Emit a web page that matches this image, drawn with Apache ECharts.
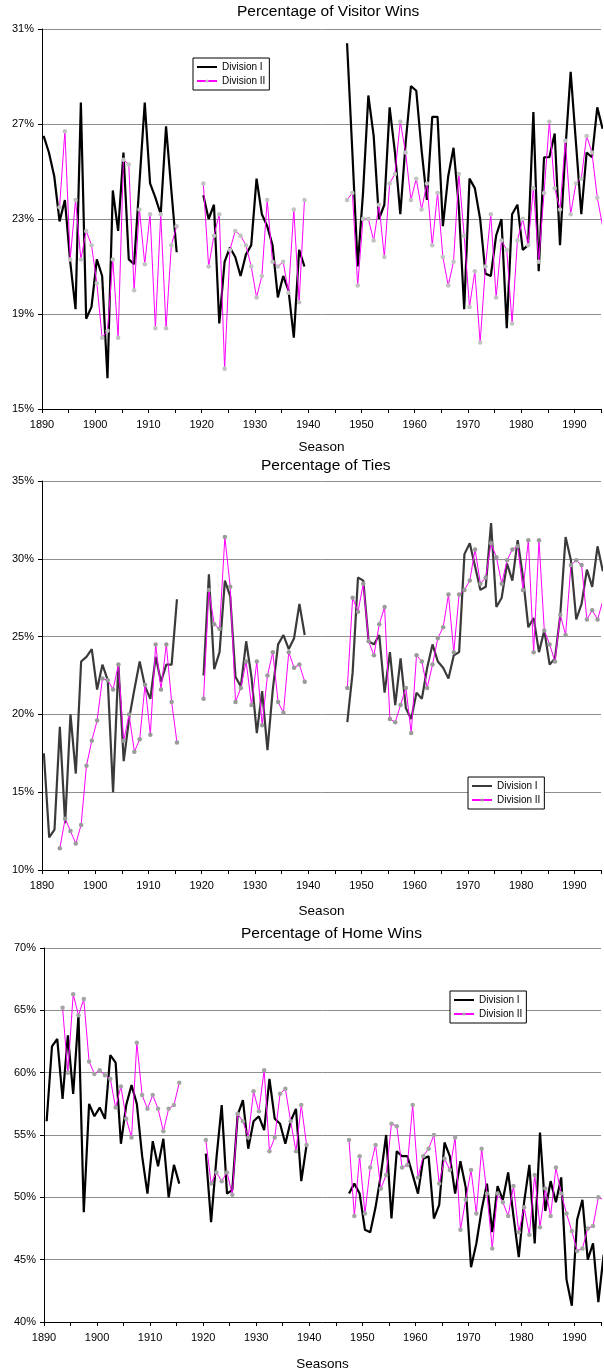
<!DOCTYPE html>
<html><head><meta charset="utf-8">
<script src="https://cdn.jsdelivr.net/npm/echarts@6/dist/echarts.min.js"></script>
<style>html,body{margin:0;padding:0;background:#fff}#c{width:604px;height:1372px}</style>
</head><body><div id="c"></div><script>
// Seasons (gaps 1916-1919 and 1940-1946 have no data)
const seasons = [
 1890,1891,1892,1893,1894,1895,1896,1897,1898,1899,1900,1901,1902,1903,1904,1905,1906,1907,1908,1909,1910,1911,1912,1913,1914,1915,
 1920,1921,1922,1923,1924,1925,1926,1927,1928,1929,1930,1931,1932,1933,1934,1935,1936,1937,1938,1939,
 1947,1948,1949,1950,1951,1952,1953,1954,1955,1956,1957,1958,1959,1960,1961,1962,1963,1964,1965,1966,1967,1968,1969,1970,
 1971,1972,1973,1974,1975,1976,1977,1978,1979,1980,1981,1982,1983,1984,1985,1986,1987,1988,1989,1990,1991,1992,1993,1994,1995
];

const visitorDiv1 = [
 26.5,25.8,24.8,22.9,23.8,21.2,19.2,27.9,18.8,19.3,21.3,20.6,16.3,24.2,22.5,25.8,21.3,21.1,24.5,27.9,24.5,23.9,23.2,26.9,24.2,21.6,
 24.0,23.0,23.6,18.6,21.2,21.8,21.4,20.6,21.5,21.9,24.7,23.2,22.7,21.9,19.7,20.6,20.0,18.0,21.7,21.0,
 30.4,25.8,21.0,24.1,28.2,26.5,23.0,23.6,27.7,25.8,23.2,26.2,28.6,28.4,25.9,23.8,27.3,27.3,22.7,24.8,26.0,23.5,19.2,24.7,
 24.3,23.0,20.7,20.6,22.3,23.0,18.4,23.2,23.6,21.7,21.9,27.5,20.8,25.6,25.6,26.6,21.9,25.9,29.2,26.2,23.2,25.8,25.6,27.7,26.8
];
const visitorDiv2 = [
 null,null,null,23.5,26.7,21.3,23.8,21.3,22.5,21.9,20.3,18.0,18.3,21.3,18.0,25.5,25.3,20.0,23.4,21.1,23.2,18.4,23.2,18.4,21.9,22.7,
 24.5,21.0,22.3,23.2,16.7,21.7,22.5,22.3,21.9,21.0,19.7,20.6,23.8,21.2,21.0,21.2,19.9,23.4,19.5,23.8,
 23.8,24.1,20.2,23.0,23.0,22.1,23.6,21.4,24.5,24.9,27.1,25.8,23.8,24.7,23.4,24.5,21.9,24.1,21.4,20.2,21.2,24.9,22.3,19.3,
 20.8,17.8,21.0,23.2,19.7,22.1,21.7,18.6,22.1,23.0,21.9,24.3,21.2,24.1,27.1,24.3,23.4,26.3,23.2,24.5,24.7,26.5,25.8,23.9,22.7
];

const tiesDiv1 = [
 17.5,12.1,12.6,19.2,13.0,20.0,16.2,23.4,23.7,24.2,21.6,23.2,22.2,15.0,23.2,17.0,19.7,21.6,23.4,21.8,21.0,23.7,22.1,23.2,23.2,27.4,
 22.5,29.0,22.9,24.0,28.6,27.6,22.4,21.8,24.7,22.4,18.8,21.5,17.7,21.6,24.5,25.1,24.2,24.9,27.1,25.1,
 19.5,22.7,28.8,28.6,24.7,24.5,25.1,21.4,24.0,20.6,23.6,20.4,19.7,21.4,21.0,23.0,24.5,23.4,23.0,22.3,23.8,24.0,30.3,31.0,
 29.5,28.0,28.2,32.3,26.9,27.5,29.7,28.6,31.2,28.8,25.6,26.2,24.0,25.4,23.2,23.6,26.4,31.4,29.9,26.1,27.1,29.3,28.2,30.8,29.2
];
const tiesDiv2 = [
 null,null,null,11.4,13.3,12.5,11.7,12.9,16.7,18.3,19.6,22.3,22.2,21.6,23.2,18.3,20.0,17.6,18.4,21.9,18.7,24.5,21.6,24.5,20.8,18.2,
 21.0,28.0,25.8,25.5,31.4,28.2,20.8,21.7,23.4,20.6,23.4,19.3,22.5,24.0,20.8,20.1,24.0,23.0,23.2,22.1,
 21.7,27.5,26.6,28.4,24.7,23.8,25.8,26.9,19.7,19.5,20.6,21.7,18.8,23.8,23.4,21.7,23.2,24.9,25.6,27.7,24.0,27.7,28.0,28.6,
 30.6,28.4,28.8,31.0,30.1,28.4,29.9,30.6,30.8,28.0,31.2,24.0,31.2,25.4,24.5,23.4,26.4,25.1,29.6,29.9,29.6,26.1,26.7,26.1,27.3
];

const homeDiv1 = [
 56.1,62.1,62.7,57.9,63.0,58.3,64.6,48.8,57.5,56.5,57.2,56.3,61.4,60.8,54.3,57.4,59.0,57.5,53.3,50.3,54.5,52.5,54.7,50.0,52.6,51.1,
 53.5,48.0,53.1,57.4,50.3,50.6,56.6,57.8,53.9,56.1,56.5,55.4,59.5,56.3,55.9,54.3,56.1,57.1,51.3,54.2,
 50.3,51.1,50.3,47.4,47.2,49.2,51.8,55.0,48.3,53.7,53.3,53.3,51.8,50.3,53.1,53.3,48.3,49.4,54.4,53.3,50.3,52.9,50.8,44.4,
 46.3,49.0,51.1,47.2,50.9,49.8,52.0,48.5,45.2,49.6,52.6,46.3,55.2,48.9,51.3,49.6,51.6,43.4,41.3,48.2,49.8,45.0,46.3,41.6,45.4
];
const homeDiv2 = [
 null,null,null,65.2,60.0,66.3,64.6,65.9,60.9,59.9,60.2,59.8,59.5,57.2,58.9,56.3,54.8,62.4,58.2,57.1,58.2,57.1,55.3,57.1,57.4,59.2,
 54.6,51.1,52.0,51.3,52.0,50.2,56.7,56.1,54.8,58.5,56.9,60.2,53.7,54.8,58.3,58.7,56.1,53.7,57.4,54.2,
 54.6,48.5,53.3,48.7,52.4,54.2,50.7,51.8,55.9,55.7,52.4,52.6,57.4,51.6,53.3,53.9,55.0,51.1,53.1,52.2,54.8,47.4,49.8,52.2,
 48.7,53.9,50.3,45.9,50.3,49.6,48.5,50.9,47.2,49.2,47.0,51.8,47.6,50.7,48.5,52.4,50.3,48.7,47.3,45.7,45.9,47.5,47.7,50.0,49.8
];

const chartTitles = ['Percentage of Visitor Wins', 'Percentage of Ties', 'Percentage of Home Wins'];
const axisNames = ['Season', 'Season', 'Seasons'];
const seriesNames = ['Division I', 'Division II'];
const yRanges = [[15, 31, 4], [10, 35, 5], [40, 70, 5]];
const xRange = [1890, 1995, 5];

const FONT = '"Liberation Sans", Arial, Helvetica, sans-serif';
const panels = [
  {d1: visitorDiv1, d2: visitorDiv2, grid: {left: 42, top: 29, width: 562, height: 380}, off: 0.3,
   c1: '#000000', dot: '#c2c2c2', title: {left: 237, top: 4}, legend: {left: 193, top: 58}, nameGap: 31, sfx: ''},
  {d1: tiesDiv1, d2: tiesDiv2, grid: {left: 42, top: 481, width: 562, height: 389}, off: 0.35,
   c1: '#3a3a3a', dot: '#9a9a9a', title: {left: 261, top: 458}, legend: {left: 468, top: 777}, nameGap: 34, sfx: ' '},
  {d1: homeDiv1, d2: homeDiv2, grid: {left: 44, top: 948, width: 559, height: 374}, off: 0.5,
   c1: '#000000', dot: '#a4a4a4', title: {left: 241, top: 926}, legend: {left: 450, top: 991}, nameGap: 35, sfx: '  '}
];

function toPairs(vals, off) {
  const out = [];
  seasons.forEach((s, i) => {
    if (i > 0 && s - seasons[i - 1] > 1) out.push([seasons[i - 1] + off + 1, null]);
    out.push([s + off, vals[i]]);
  });
  return out;
}

const option = {
  animation: false,
  backgroundColor: '#ffffff',
  textStyle: {fontFamily: FONT},
  title: [], grid: [], xAxis: [], yAxis: [], legend: [], series: []
};

panels.forEach((p, i) => {
  const [ymin, ymax, ystep] = yRanges[i];
  option.title.push({
    text: chartTitles[i], left: p.title.left, top: p.title.top, padding: 0,
    textStyle: {fontFamily: FONT, fontSize: 15.5, fontWeight: 'normal', color: '#000'}
  });
  option.grid.push(Object.assign({containLabel: false}, p.grid));
  option.xAxis.push({
    type: 'value', gridIndex: i, min: xRange[0], max: xRange[1], interval: xRange[2],
    axisLine: {show: true, onZero: false, lineStyle: {color: '#000', width: 1}},
    axisTick: {show: true, length: 4, lineStyle: {color: '#000'}},
    axisLabel: {formatter: v => (v % 10 === 0 ? String(v) : ''), fontSize: 11, color: '#000', margin: 10,
      fontFamily: FONT, showMinLabel: true, showMaxLabel: true},
    splitLine: {show: false},
    name: axisNames[i], nameLocation: 'middle', nameGap: p.nameGap,
    nameTextStyle: {fontSize: 13.5, color: '#000', fontFamily: FONT}
  });
  option.yAxis.push({
    type: 'value', gridIndex: i, min: ymin, max: ymax, interval: ystep,
    axisLine: {show: true, lineStyle: {color: '#000', width: 1}},
    axisTick: {show: true, length: 4, lineStyle: {color: '#000'}},
    axisLabel: {formatter: '{value}%', fontSize: 11, color: '#000', margin: 8, fontFamily: FONT},
    splitLine: {show: true, lineStyle: {color: '#8e8e8e', width: 1}}
  });
  const n1 = seriesNames[0] + p.sfx, n2 = seriesNames[1] + p.sfx;
  option.legend.push({
    left: p.legend.left, top: p.legend.top, orient: 'vertical',
    data: [{name: n1, itemStyle: {opacity: 0}}, {name: n2}],
    borderColor: '#000', borderWidth: 1, backgroundColor: '#fff', borderRadius: 0,
    padding: [3, 4, 3, 3], itemGap: 2, itemWidth: 20, itemHeight: 4,
    selectedMode: false, formatter: n => n.trim(),
    textStyle: {fontSize: 10, color: '#000', fontFamily: FONT, lineHeight: 12}
  });
  option.series.push({
    type: 'line', name: n1, xAxisIndex: i, yAxisIndex: i, data: toPairs(p.d1, p.off),
    symbol: 'none', connectNulls: false, clip: true, z: 2,
    lineStyle: {color: p.c1, width: 2.2}, itemStyle: {color: p.c1},
    emphasis: {disabled: true}
  });
  option.series.push({
    type: 'line', name: n2, xAxisIndex: i, yAxisIndex: i, data: toPairs(p.d2, p.off),
    symbol: 'circle', symbolSize: 4.5, showSymbol: true, showAllSymbol: true,
    connectNulls: false, clip: true, z: 3,
    lineStyle: {color: '#ff00ff', width: 1}, itemStyle: {color: p.dot, borderWidth: 0},
    emphasis: {disabled: true}
  });
});

const chart = echarts.init(document.getElementById('c'), null, {renderer: 'canvas'});
chart.setOption(option);
</script></body></html>
